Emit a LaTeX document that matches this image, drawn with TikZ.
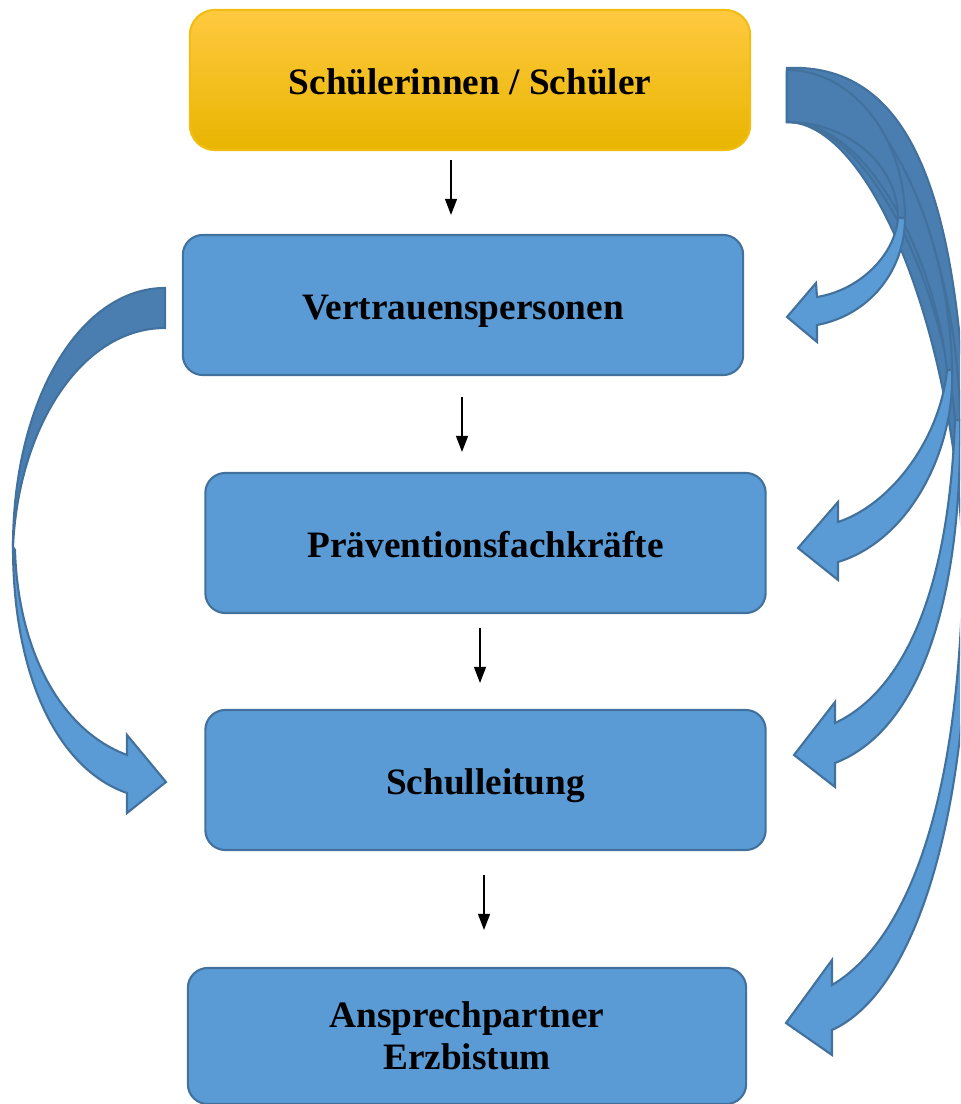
\documentclass[tikz,border=0pt]{standalone}
\usepackage{fontspec}
\setmainfont{Liberation Serif}
\usetikzlibrary{arrows.meta}
\definecolor{boxblue}{HTML}{5B9BD5}
\definecolor{boxline}{HTML}{41719C}
\definecolor{curvedark}{HTML}{4A7EB1}
\definecolor{goldtop}{HTML}{FFC940}
\definecolor{goldmid}{HTML}{FFC000}
\definecolor{goldbot}{HTML}{E8B500}
\definecolor{goldline}{HTML}{F2BD12}
\tikzset{
	stage/.style = {draw = boxline, line width = 0.6pt, fill = boxblue, rounded corners = 0.2cm, minimum width = 5.6cm, minimum height = 1.4cm, align = center, font = \fontsize{10.6pt}{11.8pt}\selectfont\bfseries},
	oneline/.style = {text height = 8pt, text depth = 0pt},
	topstage/.style = {stage, draw = goldline, top color = goldtop, middle color = goldmid, bottom color = goldbot, rounded corners = 0.25cm},
	flow/.style = {-{Triangle[length=4.6pt,width=3.4pt]}, line width = 0.45pt},
	curveback/.style = {draw = boxline, line width = 0.6pt, fill = curvedark},
	curvefront/.style = {draw = boxline, line width = 0.6pt, fill = boxblue}
}

\begin{document}
\begin{tikzpicture}[x = 0.01cm, y = -0.01cm]
	\useasboundingbox (0,0) rectangle (960,1104);
	\clip (0,0) rectangle (960,1104);
	\node[topstage, oneline] (schueler) at (470,80) {Schülerinnen / Schüler};
	\node[stage, oneline] (vertrauen) at (463,305) {Vertrauenspersonen};
	\node[stage, oneline] (praevention) at (485.5,543) {Präventionsfachkräfte};
	\node[stage, oneline] (leitung) at (485.5,780) {Schulleitung};
	\node[stage, minimum width = 5.58cm, minimum height = 1.36cm] (erzbistum) at (467,1036) {Ansprechpartner\\Erzbistum};
	\coordinate (s1) at (451,160);
	\coordinate (e1) at (451,215);
	\coordinate (s2) at (462,397);
	\coordinate (e2) at (462,452);
	\coordinate (s3) at (480,628);
	\coordinate (e3) at (480,683);
	\coordinate (s4) at (484,875);
	\coordinate (e4) at (484,930);
	\draw[flow] (s1) -- (e1);
	\draw[flow] (s2) -- (e2);
	\draw[flow] (s3) -- (e3);
	\draw[flow] (s4) -- (e4);
	% left curved arrow
	\draw[curveback] (165,288) .. controls (80,288) and (13,400) .. (13,547) .. controls (18,430) and (80,328) .. (165,328) -- cycle;
	\draw[curvefront] (13,547) .. controls (13,680) and (60,770) .. (127,793) -- (127,813) -- (166,782) -- (127,735) -- (127,755) .. controls (60,730) and (18,650) .. (15,550) -- cycle;
	% right curved arrows
	\draw[curveback] (787,68) .. controls (930,62) and (970,240) .. (968,560) -- (963,560) .. controls (955,330) and (870,122) .. (787,122) -- cycle;
	\draw[curvefront] (968,560) .. controls (972,800) and (920,990) .. (832,1030) -- (832,1055) -- (786,1023) -- (832,960) -- (832,985) .. controls (900,945) and (960,820) .. (963,560) -- cycle;
	\draw[curveback] (787,75) .. controls (890,72) and (958,260) .. (960,420) -- (955,420) .. controls (945,290) and (870,122) .. (787,122) -- cycle;
	\draw[curvefront] (960,420) .. controls (962,600) and (920,730) .. (835,763) -- (835,787) -- (794,755) -- (835,702) -- (835,723) .. controls (895,695) and (948,610) .. (955,420) -- cycle;
	\draw[curveback] (787,72) .. controls (880,72) and (950,230) .. (952,370) -- (947,370) .. controls (935,260) and (870,122) .. (787,122) -- cycle;
	\draw[curvefront] (952,370) .. controls (955,450) and (910,540) .. (838,562) -- (838,580) -- (798,548) -- (838,502) -- (838,522) .. controls (890,505) and (940,440) .. (947,370) -- cycle;
	\draw[curveback] (787,70) .. controls (852,70) and (905,137) .. (905,218) -- (898,218) .. controls (898,165) and (848,122) .. (787,122) -- cycle;
	\draw[curvefront] (905,218) .. controls (905,270) and (870,315) .. (817,325) -- (817,342) -- (787,317) -- (816,283) -- (817,297) .. controls (860,290) and (895,255) .. (898,218) -- cycle;
\end{tikzpicture}
\end{document}
